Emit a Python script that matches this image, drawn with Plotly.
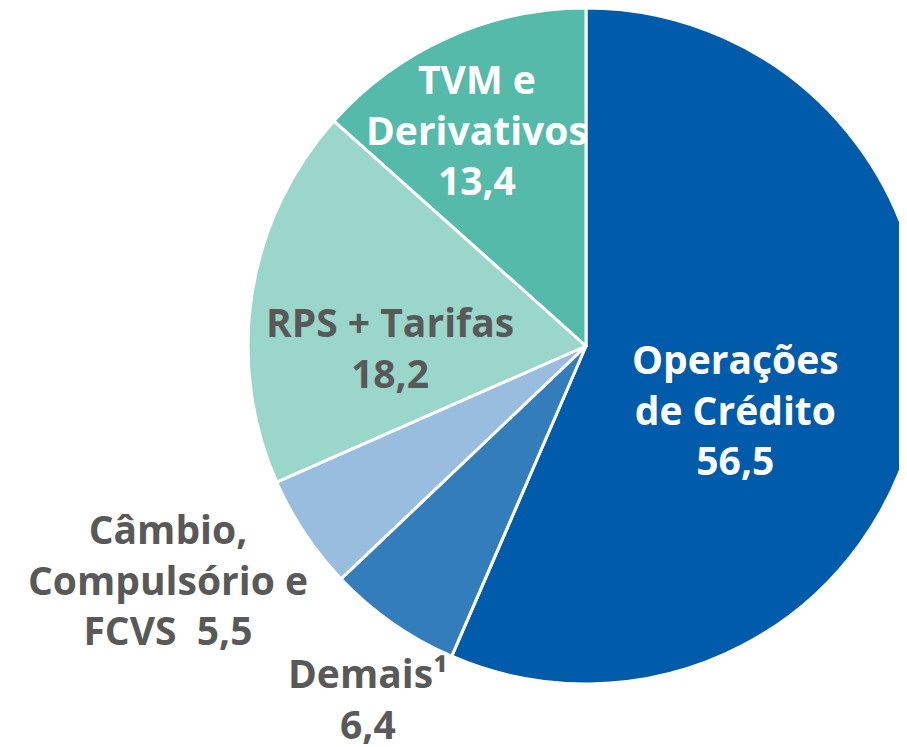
import plotly.graph_objects as go

# ---- data ----
categories = ["Operações de Crédito", "Demais¹", "Câmbio, Compulsório e FCVS", "RPS + Tarifas", "TVM e Derivativos"]
values = [56.5, 6.4, 5.5, 18.2, 13.4]
label_lines = ["Operações<br>de Crédito", "Demais¹", "Câmbio,<br>Compulsório e<br>FCVS", "RPS + Tarifas", "TVM e<br>Derivativos"]
value_separator = ["<br>", "<br>", "\u00a0\u00a0", "<br>", "<br>"]

# ---- styles ----
colors = ["#005BAA", "#337DBB", "#99BDDE", "#9AD6CA", "#55BAA9"]
text_colors = ["#FFFFFF", "#595959", "#595959", "#595959", "#FFFFFF"]
# label centres in figure pixels (x, y from top)
label_px = [(727, 401), (360, 690), (160, 571), (382, 339), (469, 121)]

W, H = 922, 760
FONT = "Open Sans"
CX, CY, R = 578, 338, 338

fig = go.Figure()
fig.add_trace(go.Pie(
    labels=categories,
    values=values,
    sort=False,
    direction="clockwise",
    rotation=0,
    marker=dict(colors=colors, line=dict(color="white", width=3)),
    textinfo="none",
    hoverinfo="label+value",
    showlegend=False,
    domain=dict(x=[2 * CX / W - 1, 1.0], y=[1 - (CY + R) / H, 1.0]),
))

for lab, val, sep, col, (px, py) in zip(label_lines, values, value_separator, text_colors, label_px):
    txt = f"{lab}{sep}{val:.1f}".replace(".", ",")
    fig.add_annotation(
        x=px / W, y=1 - py / H, xref="paper", yref="paper",
        text=f"<b>{txt}</b>", showarrow=False, align="center",
        xanchor="center", yanchor="middle",
        font=dict(family=FONT, size=39, color=col),
    )

fig.update_layout(
    width=W, height=H,
    margin=dict(l=0, r=0, t=0, b=0),
    paper_bgcolor="white", plot_bgcolor="white",
)

fig.write_html("out.html")
